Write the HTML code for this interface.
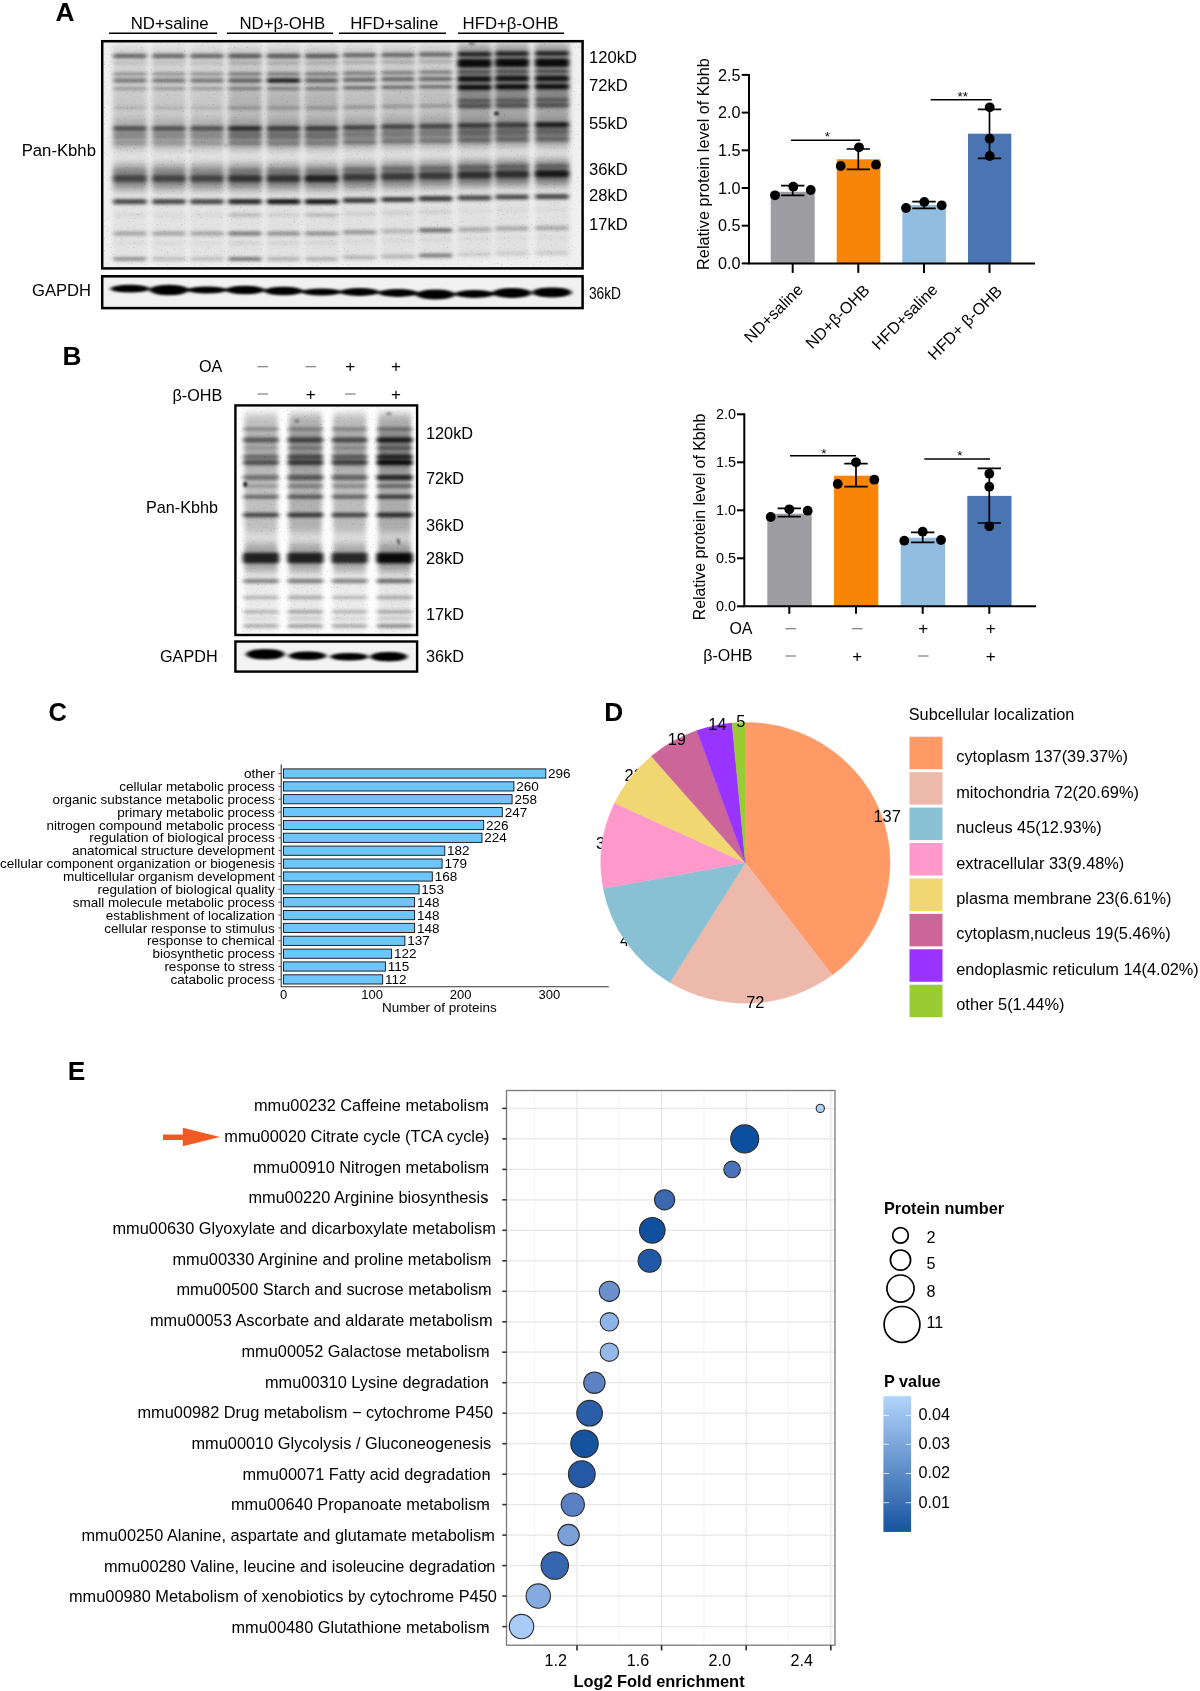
<!DOCTYPE html>
<html lang="en"><head><meta charset="utf-8"><title>Figure</title>
<style>html,body{margin:0;padding:0;background:#fff}svg{display:block}text{font-family:'Liberation Sans', Arial, Helvetica, sans-serif}</style></head><body>
<svg width="1200" height="1691" viewBox="0 0 1200 1691">
<defs>
<filter id="bl_b" filterUnits="userSpaceOnUse" x="0" y="0" width="1200" height="700"><feGaussianBlur stdDeviation="2.3 1.5"/></filter>
<filter id="bl_s" filterUnits="userSpaceOnUse" x="0" y="0" width="1200" height="700"><feGaussianBlur stdDeviation="2.6 4"/></filter>
<filter id="bl_b2" filterUnits="userSpaceOnUse" x="0" y="0" width="1200" height="700"><feGaussianBlur stdDeviation="2.0 1.7"/></filter>
<filter id="bl_s2" filterUnits="userSpaceOnUse" x="0" y="0" width="1200" height="700"><feGaussianBlur stdDeviation="2.2 4"/></filter>
<filter id="bl_g" filterUnits="userSpaceOnUse" x="0" y="0" width="1200" height="700"><feGaussianBlur stdDeviation="2.3 1.0"/></filter>
<filter id="bl_d" filterUnits="userSpaceOnUse" x="0" y="0" width="1200" height="700"><feGaussianBlur stdDeviation="0.9"/></filter>
<filter id="grain" x="0" y="0" width="100%" height="100%"><feTurbulence type="fractalNoise" baseFrequency="0.7" numOctaves="1" seed="7" result="n"/><feColorMatrix type="matrix" values="0 0 0 0 0  0 0 0 0 0  0 0 0 0 0  4 0 0 0 -2.55"/></filter>
</defs>
<rect width="1200" height="1691" fill="#fff"/>
<g id="panelA">
<clipPath id="cpA"><rect x="102" y="41" width="481" height="228"/></clipPath>
<g clip-path="url(#cpA)">
<rect x="102" y="41" width="481" height="228" fill="#f0f0f0"/>
<g filter="url(#bl_s)">
<rect x="112.8" y="46.0" width="34.5" height="104.0" rx="3" fill="#000" opacity="0.12"/>
<rect x="151.8" y="46.0" width="34.5" height="104.0" rx="3" fill="#000" opacity="0.12"/>
<rect x="189.8" y="46.0" width="34.5" height="104.0" rx="3" fill="#000" opacity="0.12"/>
<rect x="227.8" y="46.0" width="34.5" height="104.0" rx="3" fill="#000" opacity="0.17"/>
<rect x="266.2" y="46.0" width="34.5" height="104.0" rx="3" fill="#000" opacity="0.17"/>
<rect x="304.2" y="46.0" width="34.5" height="104.0" rx="3" fill="#000" opacity="0.17"/>
<rect x="342.2" y="45.2" width="34.5" height="104.0" rx="3" fill="#000" opacity="0.15"/>
<rect x="380.8" y="44.7" width="34.5" height="104.0" rx="3" fill="#000" opacity="0.15"/>
<rect x="418.2" y="44.1" width="34.5" height="104.0" rx="3" fill="#000" opacity="0.15"/>
<rect x="457.2" y="43.6" width="34.5" height="104.0" rx="3" fill="#000" opacity="0.22"/>
<rect x="494.8" y="43.1" width="34.5" height="104.0" rx="3" fill="#000" opacity="0.22"/>
<rect x="534.8" y="42.8" width="34.5" height="104.0" rx="3" fill="#000" opacity="0.22"/>
<rect x="457.2" y="45.9" width="34.5" height="46.0" rx="3" fill="#000" opacity="0.20"/>
<rect x="494.8" y="45.5" width="34.5" height="46.0" rx="3" fill="#000" opacity="0.20"/>
<rect x="534.8" y="45.3" width="34.5" height="46.0" rx="3" fill="#000" opacity="0.20"/>
<rect x="112.8" y="92.0" width="34.5" height="20.0" rx="3" fill="#000" opacity="0.05"/>
<rect x="151.8" y="92.0" width="34.5" height="20.0" rx="3" fill="#000" opacity="0.05"/>
<rect x="189.8" y="92.0" width="34.5" height="20.0" rx="3" fill="#000" opacity="0.05"/>
<rect x="227.8" y="92.0" width="34.5" height="20.0" rx="3" fill="#000" opacity="0.10"/>
<rect x="266.2" y="92.0" width="34.5" height="20.0" rx="3" fill="#000" opacity="0.10"/>
<rect x="304.2" y="92.0" width="34.5" height="20.0" rx="3" fill="#000" opacity="0.10"/>
<rect x="342.2" y="91.2" width="34.5" height="20.0" rx="3" fill="#000" opacity="0.07"/>
<rect x="380.8" y="90.6" width="34.5" height="20.0" rx="3" fill="#000" opacity="0.07"/>
<rect x="418.2" y="90.1" width="34.5" height="20.0" rx="3" fill="#000" opacity="0.07"/>
<rect x="457.2" y="89.5" width="34.5" height="20.0" rx="3" fill="#000" opacity="0.26"/>
<rect x="494.8" y="89.0" width="34.5" height="20.0" rx="3" fill="#000" opacity="0.26"/>
<rect x="534.8" y="88.7" width="34.5" height="20.0" rx="3" fill="#000" opacity="0.26"/>
<rect x="112.8" y="118.0" width="34.5" height="30.0" rx="3" fill="#000" opacity="0.18"/>
<rect x="151.8" y="118.0" width="34.5" height="30.0" rx="3" fill="#000" opacity="0.18"/>
<rect x="189.8" y="118.0" width="34.5" height="30.0" rx="3" fill="#000" opacity="0.18"/>
<rect x="227.8" y="118.0" width="34.5" height="30.0" rx="3" fill="#000" opacity="0.22"/>
<rect x="266.2" y="118.0" width="34.5" height="30.0" rx="3" fill="#000" opacity="0.22"/>
<rect x="304.2" y="118.0" width="34.5" height="30.0" rx="3" fill="#000" opacity="0.22"/>
<rect x="342.2" y="117.0" width="34.5" height="30.0" rx="3" fill="#000" opacity="0.20"/>
<rect x="380.8" y="116.4" width="34.5" height="30.0" rx="3" fill="#000" opacity="0.20"/>
<rect x="418.2" y="115.8" width="34.5" height="30.0" rx="3" fill="#000" opacity="0.20"/>
<rect x="457.2" y="115.1" width="34.5" height="30.0" rx="3" fill="#000" opacity="0.22"/>
<rect x="494.8" y="114.5" width="34.5" height="30.0" rx="3" fill="#000" opacity="0.22"/>
<rect x="534.8" y="114.2" width="34.5" height="30.0" rx="3" fill="#000" opacity="0.22"/>
<rect x="112.8" y="150.0" width="34.5" height="112.0" rx="3" fill="#000" opacity="0.05"/>
<rect x="151.8" y="150.0" width="34.5" height="112.0" rx="3" fill="#000" opacity="0.05"/>
<rect x="189.8" y="150.0" width="34.5" height="112.0" rx="3" fill="#000" opacity="0.05"/>
<rect x="227.8" y="150.0" width="34.5" height="112.0" rx="3" fill="#000" opacity="0.06"/>
<rect x="266.2" y="150.0" width="34.5" height="112.0" rx="3" fill="#000" opacity="0.06"/>
<rect x="304.2" y="150.0" width="34.5" height="112.0" rx="3" fill="#000" opacity="0.06"/>
<rect x="342.2" y="148.7" width="34.5" height="112.0" rx="3" fill="#000" opacity="0.06"/>
<rect x="380.8" y="147.9" width="34.5" height="112.0" rx="3" fill="#000" opacity="0.06"/>
<rect x="418.2" y="147.0" width="34.5" height="112.0" rx="3" fill="#000" opacity="0.06"/>
<rect x="457.2" y="146.2" width="34.5" height="112.0" rx="3" fill="#000" opacity="0.06"/>
<rect x="494.8" y="145.3" width="34.5" height="112.0" rx="3" fill="#000" opacity="0.06"/>
<rect x="534.8" y="144.9" width="34.5" height="112.0" rx="3" fill="#000" opacity="0.06"/>
<rect x="112.8" y="164.0" width="34.5" height="26.0" rx="3" fill="#000" opacity="0.30"/>
<rect x="151.8" y="164.0" width="34.5" height="26.0" rx="3" fill="#000" opacity="0.30"/>
<rect x="189.8" y="164.0" width="34.5" height="26.0" rx="3" fill="#000" opacity="0.30"/>
<rect x="227.8" y="164.0" width="34.5" height="26.0" rx="3" fill="#000" opacity="0.34"/>
<rect x="266.2" y="164.0" width="34.5" height="26.0" rx="3" fill="#000" opacity="0.34"/>
<rect x="304.2" y="164.0" width="34.5" height="26.0" rx="3" fill="#000" opacity="0.34"/>
<rect x="342.2" y="162.9" width="34.5" height="26.0" rx="3" fill="#000" opacity="0.34"/>
<rect x="380.8" y="162.1" width="34.5" height="26.0" rx="3" fill="#000" opacity="0.34"/>
<rect x="418.2" y="161.3" width="34.5" height="26.0" rx="3" fill="#000" opacity="0.34"/>
<rect x="457.2" y="160.6" width="34.5" height="26.0" rx="3" fill="#000" opacity="0.38"/>
<rect x="494.8" y="159.8" width="34.5" height="26.0" rx="3" fill="#000" opacity="0.38"/>
<rect x="534.8" y="159.4" width="34.5" height="26.0" rx="3" fill="#000" opacity="0.38"/>
<rect x="112.8" y="172.0" width="34.5" height="13.0" rx="3" fill="#000" opacity="0.25"/>
<rect x="151.8" y="172.0" width="34.5" height="13.0" rx="3" fill="#000" opacity="0.25"/>
<rect x="189.8" y="172.0" width="34.5" height="13.0" rx="3" fill="#000" opacity="0.25"/>
<rect x="227.8" y="172.0" width="34.5" height="13.0" rx="3" fill="#000" opacity="0.28"/>
<rect x="266.2" y="172.0" width="34.5" height="13.0" rx="3" fill="#000" opacity="0.28"/>
<rect x="304.2" y="172.0" width="34.5" height="13.0" rx="3" fill="#000" opacity="0.28"/>
<rect x="342.2" y="170.8" width="34.5" height="13.0" rx="3" fill="#000" opacity="0.28"/>
<rect x="380.8" y="170.1" width="34.5" height="13.0" rx="3" fill="#000" opacity="0.28"/>
<rect x="418.2" y="169.3" width="34.5" height="13.0" rx="3" fill="#000" opacity="0.28"/>
<rect x="457.2" y="168.5" width="34.5" height="13.0" rx="3" fill="#000" opacity="0.30"/>
<rect x="494.8" y="167.8" width="34.5" height="13.0" rx="3" fill="#000" opacity="0.30"/>
<rect x="534.8" y="167.4" width="34.5" height="13.0" rx="3" fill="#000" opacity="0.30"/>
</g>
<g filter="url(#bl_b)">
<rect x="113.2" y="53.8" width="33.5" height="4.5" rx="2.0" fill="#000" opacity="0.50"/>
<rect x="152.2" y="53.8" width="33.5" height="4.5" rx="2.0" fill="#000" opacity="0.50"/>
<rect x="190.2" y="53.8" width="33.5" height="4.5" rx="2.0" fill="#000" opacity="0.50"/>
<rect x="228.2" y="53.8" width="33.5" height="4.5" rx="2.0" fill="#000" opacity="0.55"/>
<rect x="266.8" y="53.8" width="33.5" height="4.5" rx="2.0" fill="#000" opacity="0.55"/>
<rect x="304.8" y="53.8" width="33.5" height="4.5" rx="2.0" fill="#000" opacity="0.55"/>
<rect x="342.8" y="53.1" width="33.5" height="4.5" rx="2.0" fill="#000" opacity="0.48"/>
<rect x="381.2" y="52.7" width="33.5" height="4.5" rx="2.0" fill="#000" opacity="0.48"/>
<rect x="418.8" y="52.3" width="33.5" height="4.5" rx="2.0" fill="#000" opacity="0.48"/>
<rect x="457.8" y="51.9" width="33.5" height="4.5" rx="2.0" fill="#000" opacity="0.80"/>
<rect x="495.2" y="51.5" width="33.5" height="4.5" rx="2.0" fill="#000" opacity="0.80"/>
<rect x="535.2" y="51.3" width="33.5" height="4.5" rx="2.0" fill="#000" opacity="0.80"/>
<rect x="113.2" y="61.8" width="33.5" height="2.5" rx="1.2" fill="#000" opacity="0.12"/>
<rect x="152.2" y="61.8" width="33.5" height="2.5" rx="1.2" fill="#000" opacity="0.12"/>
<rect x="190.2" y="61.8" width="33.5" height="2.5" rx="1.2" fill="#000" opacity="0.12"/>
<rect x="228.2" y="61.8" width="33.5" height="2.5" rx="1.2" fill="#000" opacity="0.18"/>
<rect x="266.8" y="61.8" width="33.5" height="2.5" rx="1.2" fill="#000" opacity="0.18"/>
<rect x="304.8" y="61.8" width="33.5" height="2.5" rx="1.2" fill="#000" opacity="0.18"/>
<rect x="342.8" y="61.1" width="33.5" height="2.5" rx="1.2" fill="#000" opacity="0.22"/>
<rect x="381.2" y="60.7" width="33.5" height="2.5" rx="1.2" fill="#000" opacity="0.22"/>
<rect x="418.8" y="60.2" width="33.5" height="2.5" rx="1.2" fill="#000" opacity="0.22"/>
<rect x="457.8" y="59.1" width="33.5" height="8.5" rx="2.0" fill="#000" opacity="0.93"/>
<rect x="495.2" y="58.6" width="33.5" height="8.5" rx="2.0" fill="#000" opacity="0.93"/>
<rect x="535.2" y="58.4" width="33.5" height="8.5" rx="2.0" fill="#000" opacity="0.93"/>
<rect x="113.2" y="72.2" width="33.5" height="3.5" rx="1.8" fill="#000" opacity="0.30"/>
<rect x="152.2" y="72.2" width="33.5" height="3.5" rx="1.8" fill="#000" opacity="0.30"/>
<rect x="190.2" y="72.2" width="33.5" height="3.5" rx="1.8" fill="#000" opacity="0.30"/>
<rect x="228.2" y="72.2" width="33.5" height="3.5" rx="1.8" fill="#000" opacity="0.40"/>
<rect x="266.8" y="72.2" width="33.5" height="3.5" rx="1.8" fill="#000" opacity="0.40"/>
<rect x="304.8" y="72.2" width="33.5" height="3.5" rx="1.8" fill="#000" opacity="0.40"/>
<rect x="342.8" y="71.6" width="33.5" height="3.5" rx="1.8" fill="#000" opacity="0.40"/>
<rect x="381.2" y="71.1" width="33.5" height="3.5" rx="1.8" fill="#000" opacity="0.40"/>
<rect x="418.8" y="70.6" width="33.5" height="3.5" rx="1.8" fill="#000" opacity="0.40"/>
<rect x="457.8" y="70.2" width="33.5" height="3.5" rx="1.8" fill="#000" opacity="0.55"/>
<rect x="495.2" y="69.7" width="33.5" height="3.5" rx="1.8" fill="#000" opacity="0.55"/>
<rect x="535.2" y="69.5" width="33.5" height="3.5" rx="1.8" fill="#000" opacity="0.55"/>
<rect x="113.2" y="78.3" width="33.5" height="4.5" rx="2.0" fill="#000" opacity="0.42"/>
<rect x="152.2" y="78.3" width="33.5" height="4.5" rx="2.0" fill="#000" opacity="0.42"/>
<rect x="190.2" y="78.3" width="33.5" height="4.5" rx="2.0" fill="#000" opacity="0.42"/>
<rect x="228.2" y="78.3" width="33.5" height="4.5" rx="2.0" fill="#000" opacity="0.52"/>
<rect x="266.8" y="78.3" width="33.5" height="4.5" rx="2.0" fill="#000" opacity="0.88"/>
<rect x="304.8" y="78.3" width="33.5" height="4.5" rx="2.0" fill="#000" opacity="0.52"/>
<rect x="342.8" y="77.6" width="33.5" height="4.5" rx="2.0" fill="#000" opacity="0.48"/>
<rect x="381.2" y="77.1" width="33.5" height="4.5" rx="2.0" fill="#000" opacity="0.48"/>
<rect x="418.8" y="76.7" width="33.5" height="4.5" rx="2.0" fill="#000" opacity="0.48"/>
<rect x="457.8" y="76.1" width="33.5" height="6.0" rx="2.0" fill="#000" opacity="0.88"/>
<rect x="495.2" y="75.6" width="33.5" height="6.0" rx="2.0" fill="#000" opacity="0.88"/>
<rect x="535.2" y="75.4" width="33.5" height="6.0" rx="2.0" fill="#000" opacity="0.88"/>
<rect x="113.2" y="86.7" width="33.5" height="3.5" rx="1.8" fill="#000" opacity="0.26"/>
<rect x="152.2" y="86.7" width="33.5" height="3.5" rx="1.8" fill="#000" opacity="0.26"/>
<rect x="190.2" y="86.7" width="33.5" height="3.5" rx="1.8" fill="#000" opacity="0.26"/>
<rect x="228.2" y="86.7" width="33.5" height="3.5" rx="1.8" fill="#000" opacity="0.38"/>
<rect x="266.8" y="86.7" width="33.5" height="3.5" rx="1.8" fill="#000" opacity="0.38"/>
<rect x="304.8" y="86.7" width="33.5" height="3.5" rx="1.8" fill="#000" opacity="0.38"/>
<rect x="342.8" y="85.9" width="33.5" height="3.5" rx="1.8" fill="#000" opacity="0.48"/>
<rect x="381.2" y="85.4" width="33.5" height="3.5" rx="1.8" fill="#000" opacity="0.48"/>
<rect x="418.8" y="84.9" width="33.5" height="3.5" rx="1.8" fill="#000" opacity="0.48"/>
<rect x="457.8" y="84.5" width="33.5" height="5.5" rx="2.0" fill="#000" opacity="0.90"/>
<rect x="495.2" y="84.0" width="33.5" height="5.5" rx="2.0" fill="#000" opacity="0.90"/>
<rect x="535.2" y="83.8" width="33.5" height="5.5" rx="2.0" fill="#000" opacity="0.90"/>
<rect x="457.8" y="99.0" width="33.5" height="3.5" rx="1.8" fill="#000" opacity="0.42"/>
<rect x="495.2" y="98.4" width="33.5" height="3.5" rx="1.8" fill="#000" opacity="0.42"/>
<rect x="535.2" y="98.1" width="33.5" height="3.5" rx="1.8" fill="#000" opacity="0.42"/>
<rect x="113.2" y="106.2" width="33.5" height="3.5" rx="1.8" fill="#000" opacity="0.12"/>
<rect x="152.2" y="106.2" width="33.5" height="3.5" rx="1.8" fill="#000" opacity="0.12"/>
<rect x="190.2" y="106.2" width="33.5" height="3.5" rx="1.8" fill="#000" opacity="0.12"/>
<rect x="228.2" y="106.2" width="33.5" height="3.5" rx="1.8" fill="#000" opacity="0.22"/>
<rect x="266.8" y="106.2" width="33.5" height="3.5" rx="1.8" fill="#000" opacity="0.22"/>
<rect x="304.8" y="106.2" width="33.5" height="3.5" rx="1.8" fill="#000" opacity="0.22"/>
<rect x="342.8" y="105.4" width="33.5" height="3.5" rx="1.8" fill="#000" opacity="0.24"/>
<rect x="381.2" y="104.8" width="33.5" height="3.5" rx="1.8" fill="#000" opacity="0.24"/>
<rect x="418.8" y="104.3" width="33.5" height="3.5" rx="1.8" fill="#000" opacity="0.24"/>
<rect x="457.8" y="103.8" width="33.5" height="4.5" rx="2.0" fill="#000" opacity="0.48"/>
<rect x="495.2" y="103.2" width="33.5" height="4.5" rx="2.0" fill="#000" opacity="0.48"/>
<rect x="535.2" y="103.0" width="33.5" height="4.5" rx="2.0" fill="#000" opacity="0.48"/>
<rect x="113.2" y="125.9" width="33.5" height="5.0" rx="2.0" fill="#000" opacity="0.52"/>
<rect x="152.2" y="125.9" width="33.5" height="5.0" rx="2.0" fill="#000" opacity="0.52"/>
<rect x="190.2" y="125.9" width="33.5" height="5.0" rx="2.0" fill="#000" opacity="0.52"/>
<rect x="228.2" y="125.9" width="33.5" height="5.0" rx="2.0" fill="#000" opacity="0.72"/>
<rect x="266.8" y="125.9" width="33.5" height="5.0" rx="2.0" fill="#000" opacity="0.62"/>
<rect x="304.8" y="125.9" width="33.5" height="5.0" rx="2.0" fill="#000" opacity="0.62"/>
<rect x="342.8" y="125.0" width="33.5" height="5.0" rx="2.0" fill="#000" opacity="0.58"/>
<rect x="381.2" y="124.3" width="33.5" height="5.0" rx="2.0" fill="#000" opacity="0.58"/>
<rect x="418.8" y="123.7" width="33.5" height="5.0" rx="2.0" fill="#000" opacity="0.58"/>
<rect x="457.8" y="123.1" width="33.5" height="5.0" rx="2.0" fill="#000" opacity="0.62"/>
<rect x="495.2" y="122.5" width="33.5" height="5.0" rx="2.0" fill="#000" opacity="0.62"/>
<rect x="535.2" y="122.2" width="33.5" height="5.0" rx="2.0" fill="#000" opacity="0.85"/>
<rect x="113.2" y="132.0" width="33.5" height="7.0" rx="2.0" fill="#000" opacity="0.20"/>
<rect x="152.2" y="132.0" width="33.5" height="7.0" rx="2.0" fill="#000" opacity="0.20"/>
<rect x="190.2" y="132.0" width="33.5" height="7.0" rx="2.0" fill="#000" opacity="0.20"/>
<rect x="228.2" y="132.0" width="33.5" height="7.0" rx="2.0" fill="#000" opacity="0.30"/>
<rect x="266.8" y="132.0" width="33.5" height="7.0" rx="2.0" fill="#000" opacity="0.30"/>
<rect x="304.8" y="132.0" width="33.5" height="7.0" rx="2.0" fill="#000" opacity="0.30"/>
<rect x="342.8" y="131.0" width="33.5" height="7.0" rx="2.0" fill="#000" opacity="0.26"/>
<rect x="381.2" y="130.4" width="33.5" height="7.0" rx="2.0" fill="#000" opacity="0.26"/>
<rect x="418.8" y="129.7" width="33.5" height="7.0" rx="2.0" fill="#000" opacity="0.26"/>
<rect x="457.8" y="129.1" width="33.5" height="7.0" rx="2.0" fill="#000" opacity="0.32"/>
<rect x="495.2" y="128.5" width="33.5" height="7.0" rx="2.0" fill="#000" opacity="0.32"/>
<rect x="535.2" y="128.1" width="33.5" height="7.0" rx="2.0" fill="#000" opacity="0.32"/>
<rect x="113.2" y="140.5" width="33.5" height="5.0" rx="2.0" fill="#000" opacity="0.14"/>
<rect x="152.2" y="140.5" width="33.5" height="5.0" rx="2.0" fill="#000" opacity="0.14"/>
<rect x="190.2" y="140.5" width="33.5" height="5.0" rx="2.0" fill="#000" opacity="0.14"/>
<rect x="228.2" y="140.5" width="33.5" height="5.0" rx="2.0" fill="#000" opacity="0.24"/>
<rect x="266.8" y="140.5" width="33.5" height="5.0" rx="2.0" fill="#000" opacity="0.24"/>
<rect x="304.8" y="140.5" width="33.5" height="5.0" rx="2.0" fill="#000" opacity="0.24"/>
<rect x="342.8" y="139.5" width="33.5" height="5.0" rx="2.0" fill="#000" opacity="0.30"/>
<rect x="381.2" y="138.8" width="33.5" height="5.0" rx="2.0" fill="#000" opacity="0.30"/>
<rect x="418.8" y="138.2" width="33.5" height="5.0" rx="2.0" fill="#000" opacity="0.30"/>
<rect x="457.8" y="137.5" width="33.5" height="5.0" rx="2.0" fill="#000" opacity="0.34"/>
<rect x="495.2" y="136.8" width="33.5" height="5.0" rx="2.0" fill="#000" opacity="0.34"/>
<rect x="535.2" y="136.5" width="33.5" height="5.0" rx="2.0" fill="#000" opacity="0.34"/>
<rect x="113.2" y="168.5" width="33.5" height="4.0" rx="2.0" fill="#000" opacity="0.06"/>
<rect x="152.2" y="168.5" width="33.5" height="4.0" rx="2.0" fill="#000" opacity="0.06"/>
<rect x="190.2" y="168.5" width="33.5" height="4.0" rx="2.0" fill="#000" opacity="0.06"/>
<rect x="228.2" y="168.5" width="33.5" height="4.0" rx="2.0" fill="#000" opacity="0.14"/>
<rect x="266.8" y="168.5" width="33.5" height="4.0" rx="2.0" fill="#000" opacity="0.14"/>
<rect x="304.8" y="168.5" width="33.5" height="4.0" rx="2.0" fill="#000" opacity="0.14"/>
<rect x="342.8" y="167.4" width="33.5" height="4.0" rx="2.0" fill="#000" opacity="0.24"/>
<rect x="381.2" y="166.6" width="33.5" height="4.0" rx="2.0" fill="#000" opacity="0.24"/>
<rect x="418.8" y="165.9" width="33.5" height="4.0" rx="2.0" fill="#000" opacity="0.24"/>
<rect x="457.8" y="165.1" width="33.5" height="4.0" rx="2.0" fill="#000" opacity="0.28"/>
<rect x="495.2" y="164.4" width="33.5" height="4.0" rx="2.0" fill="#000" opacity="0.28"/>
<rect x="535.2" y="164.0" width="33.5" height="4.0" rx="2.0" fill="#000" opacity="0.28"/>
<rect x="113.2" y="175.2" width="33.5" height="6.5" rx="2.0" fill="#000" opacity="0.45"/>
<rect x="152.2" y="175.2" width="33.5" height="6.5" rx="2.0" fill="#000" opacity="0.45"/>
<rect x="190.2" y="175.2" width="33.5" height="6.5" rx="2.0" fill="#000" opacity="0.45"/>
<rect x="228.2" y="175.2" width="33.5" height="6.5" rx="2.0" fill="#000" opacity="0.56"/>
<rect x="266.8" y="175.2" width="33.5" height="6.5" rx="2.0" fill="#000" opacity="0.56"/>
<rect x="304.8" y="175.2" width="33.5" height="6.5" rx="2.0" fill="#000" opacity="0.72"/>
<rect x="342.8" y="174.0" width="33.5" height="6.5" rx="2.0" fill="#000" opacity="0.50"/>
<rect x="381.2" y="173.2" width="33.5" height="6.5" rx="2.0" fill="#000" opacity="0.50"/>
<rect x="418.8" y="172.5" width="33.5" height="6.5" rx="2.0" fill="#000" opacity="0.50"/>
<rect x="457.8" y="171.7" width="33.5" height="6.5" rx="2.0" fill="#000" opacity="0.56"/>
<rect x="495.2" y="170.9" width="33.5" height="6.5" rx="2.0" fill="#000" opacity="0.56"/>
<rect x="535.2" y="170.5" width="33.5" height="6.5" rx="2.0" fill="#000" opacity="0.78"/>
<rect x="113.2" y="199.0" width="33.5" height="5.2" rx="2.0" fill="#000" opacity="0.66"/>
<rect x="152.2" y="199.0" width="33.5" height="5.2" rx="2.0" fill="#000" opacity="0.66"/>
<rect x="190.2" y="199.0" width="33.5" height="5.2" rx="2.0" fill="#000" opacity="0.66"/>
<rect x="228.2" y="199.0" width="33.5" height="5.2" rx="2.0" fill="#000" opacity="0.80"/>
<rect x="266.8" y="199.0" width="33.5" height="5.2" rx="2.0" fill="#000" opacity="0.88"/>
<rect x="304.8" y="199.0" width="33.5" height="5.2" rx="2.0" fill="#000" opacity="0.88"/>
<rect x="342.8" y="197.7" width="33.5" height="5.2" rx="2.0" fill="#000" opacity="0.72"/>
<rect x="381.2" y="196.9" width="33.5" height="5.2" rx="2.0" fill="#000" opacity="0.72"/>
<rect x="418.8" y="196.1" width="33.5" height="5.2" rx="2.0" fill="#000" opacity="0.72"/>
<rect x="457.8" y="195.2" width="33.5" height="5.2" rx="2.0" fill="#000" opacity="0.66"/>
<rect x="495.2" y="194.4" width="33.5" height="5.2" rx="2.0" fill="#000" opacity="0.66"/>
<rect x="535.2" y="194.0" width="33.5" height="5.2" rx="2.0" fill="#000" opacity="0.66"/>
<rect x="113.2" y="213.2" width="33.5" height="3.5" rx="1.8" fill="#000" opacity="0.05"/>
<rect x="152.2" y="213.2" width="33.5" height="3.5" rx="1.8" fill="#000" opacity="0.05"/>
<rect x="190.2" y="213.2" width="33.5" height="3.5" rx="1.8" fill="#000" opacity="0.05"/>
<rect x="228.2" y="213.2" width="33.5" height="3.5" rx="1.8" fill="#000" opacity="0.18"/>
<rect x="266.8" y="213.2" width="33.5" height="3.5" rx="1.8" fill="#000" opacity="0.08"/>
<rect x="304.8" y="213.2" width="33.5" height="3.5" rx="1.8" fill="#000" opacity="0.18"/>
<rect x="342.8" y="211.9" width="33.5" height="3.5" rx="1.8" fill="#000" opacity="0.08"/>
<rect x="381.2" y="211.1" width="33.5" height="3.5" rx="1.8" fill="#000" opacity="0.08"/>
<rect x="418.8" y="210.2" width="33.5" height="3.5" rx="1.8" fill="#000" opacity="0.08"/>
<rect x="457.8" y="209.3" width="33.5" height="3.5" rx="1.8" fill="#000" opacity="0.03"/>
<rect x="495.2" y="208.4" width="33.5" height="3.5" rx="1.8" fill="#000" opacity="0.03"/>
<rect x="535.2" y="208.0" width="33.5" height="3.5" rx="1.8" fill="#000" opacity="0.03"/>
<rect x="113.2" y="231.3" width="33.5" height="4.5" rx="2.0" fill="#000" opacity="0.26"/>
<rect x="152.2" y="231.3" width="33.5" height="4.5" rx="2.0" fill="#000" opacity="0.26"/>
<rect x="190.2" y="231.3" width="33.5" height="4.5" rx="2.0" fill="#000" opacity="0.26"/>
<rect x="228.2" y="231.3" width="33.5" height="4.5" rx="2.0" fill="#000" opacity="0.42"/>
<rect x="266.8" y="231.3" width="33.5" height="4.5" rx="2.0" fill="#000" opacity="0.33"/>
<rect x="304.8" y="231.3" width="33.5" height="4.5" rx="2.0" fill="#000" opacity="0.33"/>
<rect x="342.8" y="230.0" width="33.5" height="4.5" rx="2.0" fill="#000" opacity="0.31"/>
<rect x="381.2" y="229.0" width="33.5" height="4.5" rx="2.0" fill="#000" opacity="0.18"/>
<rect x="418.8" y="228.1" width="33.5" height="4.5" rx="2.0" fill="#000" opacity="0.48"/>
<rect x="457.8" y="227.2" width="33.5" height="4.5" rx="2.0" fill="#000" opacity="0.24"/>
<rect x="495.2" y="226.3" width="33.5" height="4.5" rx="2.0" fill="#000" opacity="0.24"/>
<rect x="535.2" y="225.8" width="33.5" height="4.5" rx="2.0" fill="#000" opacity="0.24"/>
<rect x="113.2" y="241.8" width="33.5" height="2.5" rx="1.2" fill="#000" opacity="0.05"/>
<rect x="152.2" y="241.8" width="33.5" height="2.5" rx="1.2" fill="#000" opacity="0.05"/>
<rect x="190.2" y="241.8" width="33.5" height="2.5" rx="1.2" fill="#000" opacity="0.05"/>
<rect x="228.2" y="241.8" width="33.5" height="2.5" rx="1.2" fill="#000" opacity="0.08"/>
<rect x="266.8" y="241.8" width="33.5" height="2.5" rx="1.2" fill="#000" opacity="0.08"/>
<rect x="304.8" y="241.8" width="33.5" height="2.5" rx="1.2" fill="#000" opacity="0.08"/>
<rect x="342.8" y="240.3" width="33.5" height="2.5" rx="1.2" fill="#000" opacity="0.05"/>
<rect x="381.2" y="239.4" width="33.5" height="2.5" rx="1.2" fill="#000" opacity="0.05"/>
<rect x="418.8" y="238.4" width="33.5" height="2.5" rx="1.2" fill="#000" opacity="0.05"/>
<rect x="457.8" y="237.5" width="33.5" height="2.5" rx="1.2" fill="#000" opacity="0.03"/>
<rect x="495.2" y="236.5" width="33.5" height="2.5" rx="1.2" fill="#000" opacity="0.03"/>
<rect x="535.2" y="236.0" width="33.5" height="2.5" rx="1.2" fill="#000" opacity="0.03"/>
<rect x="113.2" y="256.9" width="33.5" height="4.2" rx="2.0" fill="#000" opacity="0.35"/>
<rect x="152.2" y="256.9" width="33.5" height="4.2" rx="2.0" fill="#000" opacity="0.16"/>
<rect x="190.2" y="256.9" width="33.5" height="4.2" rx="2.0" fill="#000" opacity="0.16"/>
<rect x="228.2" y="256.9" width="33.5" height="4.2" rx="2.0" fill="#000" opacity="0.45"/>
<rect x="266.8" y="256.9" width="33.5" height="4.2" rx="2.0" fill="#000" opacity="0.20"/>
<rect x="304.8" y="256.9" width="33.5" height="4.2" rx="2.0" fill="#000" opacity="0.20"/>
<rect x="342.8" y="255.4" width="33.5" height="4.2" rx="2.0" fill="#000" opacity="0.20"/>
<rect x="381.2" y="254.4" width="33.5" height="4.2" rx="2.0" fill="#000" opacity="0.20"/>
<rect x="418.8" y="253.4" width="33.5" height="4.2" rx="2.0" fill="#000" opacity="0.45"/>
<rect x="457.8" y="252.4" width="33.5" height="4.2" rx="2.0" fill="#000" opacity="0.10"/>
<rect x="495.2" y="251.4" width="33.5" height="4.2" rx="2.0" fill="#000" opacity="0.10"/>
<rect x="535.2" y="250.9" width="33.5" height="4.2" rx="2.0" fill="#000" opacity="0.10"/>
</g>
</g>
<g clip-path="url(#cpA)"><rect x="102" y="41" width="481" height="228" filter="url(#grain)" opacity="0.22"/>
<g filter="url(#bl_d)"><ellipse cx="496.5" cy="113.5" rx="2.6" ry="2" fill="#000" opacity=".75"/><ellipse cx="472" cy="43.5" rx="3" ry="1.5" fill="#000" opacity=".4"/><ellipse cx="190" cy="151" rx="1" ry="1" fill="#000" opacity=".4"/><ellipse cx="225.7" cy="145.5" rx="1" ry="1" fill="#000" opacity=".4"/></g></g>
<rect x="102.2" y="41.2" width="480.4" height="227.2" fill="none" stroke="#000" stroke-width="2.5"/>
<clipPath id="cpAg"><rect x="102" y="276" width="481" height="32"/></clipPath>
<g clip-path="url(#cpAg)"><rect x="102" y="276" width="481" height="32" fill="#f1f1f1"/><g filter="url(#bl_g)">
<ellipse cx="130.0" cy="288.7" rx="19.5" ry="3.9" fill="#000"/><rect x="117.0" y="285.7" width="26" height="6.0" rx="2" fill="#000"/>
<ellipse cx="169.0" cy="290.0" rx="19.5" ry="5.2" fill="#000"/><rect x="156.0" y="285.7" width="26" height="8.6" rx="2" fill="#000"/>
<ellipse cx="207.0" cy="290.0" rx="19.5" ry="3.4" fill="#000"/><rect x="194.0" y="287.5" width="26" height="5.0" rx="2" fill="#000"/>
<ellipse cx="245.0" cy="290.0" rx="19.5" ry="4.2" fill="#000"/><rect x="232.0" y="286.7" width="26" height="6.6" rx="2" fill="#000"/>
<ellipse cx="283.5" cy="291.0" rx="19.5" ry="4.2" fill="#000"/><rect x="270.5" y="287.7" width="26" height="6.6" rx="2" fill="#000"/>
<ellipse cx="321.5" cy="292.0" rx="19.5" ry="3.4" fill="#000"/><rect x="308.5" y="289.5" width="26" height="5.0" rx="2" fill="#000"/>
<ellipse cx="359.5" cy="292.0" rx="19.5" ry="3.9" fill="#000"/><rect x="346.5" y="289.0" width="26" height="6.0" rx="2" fill="#000"/>
<ellipse cx="398.0" cy="293.0" rx="19.5" ry="3.9" fill="#000"/><rect x="385.0" y="290.0" width="26" height="6.0" rx="2" fill="#000"/>
<ellipse cx="435.5" cy="294.5" rx="19.5" ry="5.0" fill="#000"/><rect x="422.5" y="290.5" width="26" height="8.1" rx="2" fill="#000"/>
<ellipse cx="474.5" cy="294.0" rx="19.5" ry="3.9" fill="#000"/><rect x="461.5" y="291.0" width="26" height="6.0" rx="2" fill="#000"/>
<ellipse cx="512.0" cy="293.0" rx="19.5" ry="5.0" fill="#000"/><rect x="499.0" y="289.0" width="26" height="8.1" rx="2" fill="#000"/>
<ellipse cx="552.0" cy="292.4" rx="19.5" ry="5.0" fill="#000"/><rect x="539.0" y="288.4" width="26" height="8.1" rx="2" fill="#000"/>
</g></g>
<rect x="102.2" y="276.3" width="480.4" height="31.8" fill="none" stroke="#000" stroke-width="2.5"/>
<text x="55.60" y="21.00" font-size="26.3" font-weight="bold">A</text>
<line x1="109" y1="33.3" x2="217" y2="33.3" stroke="#000" stroke-width="1.6"/>
<text x="169.70" y="28.80" font-size="16.8" text-anchor="middle">ND+saline</text>
<line x1="227" y1="33.3" x2="333" y2="33.3" stroke="#000" stroke-width="1.6"/>
<text x="282.30" y="28.80" font-size="16.8" text-anchor="middle">ND+β-OHB</text>
<line x1="339" y1="33.3" x2="446" y2="33.3" stroke="#000" stroke-width="1.6"/>
<text x="394.20" y="28.80" font-size="16.8" text-anchor="middle">HFD+saline</text>
<line x1="458" y1="33.3" x2="564" y2="33.3" stroke="#000" stroke-width="1.6"/>
<text x="510.50" y="28.80" font-size="16.8" text-anchor="middle">HFD+β-OHB</text>
<text x="21.70" y="156.30" font-size="16.7">Pan-Kbhb</text>
<text x="32.00" y="296.00" font-size="16.6">GAPDH</text>
<text x="589.00" y="62.90" font-size="16.6">120kD</text>
<text x="589.00" y="90.70" font-size="16.6">72kD</text>
<text x="589.00" y="128.70" font-size="16.6">55kD</text>
<text x="589.00" y="175.30" font-size="16.6">36kD</text>
<text x="589.00" y="200.80" font-size="16.6">28kD</text>
<text x="589.00" y="230.40" font-size="16.6">17kD</text>
<text x="589" y="298.5" font-size="16.3" textLength="32" lengthAdjust="spacingAndGlyphs">36kD</text>
<rect x="770.7" y="191.8" width="44.0" height="71.6" fill="#9e9da2"/>
<rect x="836.7" y="159.3" width="43.6" height="104.1" fill="#f98506"/>
<rect x="902.3" y="205.0" width="43.6" height="58.4" fill="#90bde0"/>
<rect x="968.0" y="133.7" width="43.3" height="129.7" fill="#4b74b2"/>
<path d="M749 73.9V263.4H1035" fill="none" stroke="#000" stroke-width="2"/>
<line x1="741.7" y1="263.4" x2="749" y2="263.4" stroke="#000" stroke-width="2"/>
<text x="740.50" y="269.15" font-size="16.2" text-anchor="end">0.0</text>
<line x1="741.7" y1="225.7" x2="749" y2="225.7" stroke="#000" stroke-width="2"/>
<text x="740.50" y="231.45" font-size="16.2" text-anchor="end">0.5</text>
<line x1="741.7" y1="188.0" x2="749" y2="188.0" stroke="#000" stroke-width="2"/>
<text x="740.50" y="193.75" font-size="16.2" text-anchor="end">1.0</text>
<line x1="741.7" y1="150.3" x2="749" y2="150.3" stroke="#000" stroke-width="2"/>
<text x="740.50" y="156.05" font-size="16.2" text-anchor="end">1.5</text>
<line x1="741.7" y1="112.6" x2="749" y2="112.6" stroke="#000" stroke-width="2"/>
<text x="740.50" y="118.35" font-size="16.2" text-anchor="end">2.0</text>
<line x1="741.7" y1="74.9" x2="749" y2="74.9" stroke="#000" stroke-width="2"/>
<text x="740.50" y="80.65" font-size="16.2" text-anchor="end">2.5</text>
<path d="M781.0 185.7H804.4M781.0 195.3H804.4M792.7 185.7V195.3" stroke="#000" stroke-width="1.7" fill="none"/>
<line x1="792.7" y1="263.4" x2="792.7" y2="272.9" stroke="#000" stroke-width="2"/>
<path d="M846.6 149.0H870.0M846.6 169.3H870.0M858.3 149.0V169.3" stroke="#000" stroke-width="1.7" fill="none"/>
<line x1="858.3" y1="263.4" x2="858.3" y2="272.9" stroke="#000" stroke-width="2"/>
<path d="M912.3 201.7H935.7M912.3 208.3H935.7M924.0 201.7V208.3" stroke="#000" stroke-width="1.7" fill="none"/>
<line x1="924.0" y1="263.4" x2="924.0" y2="272.9" stroke="#000" stroke-width="2"/>
<path d="M977.8 109.3H1001.2M977.8 158.3H1001.2M989.5 109.3V158.3" stroke="#000" stroke-width="1.7" fill="none"/>
<line x1="989.5" y1="263.4" x2="989.5" y2="272.9" stroke="#000" stroke-width="2"/>
<circle cx="775.0" cy="195.3" r="4.9"/>
<circle cx="793.3" cy="186.7" r="4.9"/>
<circle cx="810.7" cy="190.0" r="4.9"/>
<circle cx="840.7" cy="166.0" r="4.9"/>
<circle cx="859.0" cy="147.3" r="4.9"/>
<circle cx="876.0" cy="164.7" r="4.9"/>
<circle cx="906.0" cy="208.0" r="4.9"/>
<circle cx="924.3" cy="202.0" r="4.9"/>
<circle cx="941.7" cy="205.3" r="4.9"/>
<circle cx="989.7" cy="107.3" r="4.9"/>
<circle cx="989.7" cy="138.7" r="4.9"/>
<circle cx="989.7" cy="156.0" r="4.9"/>
<line x1="791.0" y1="140.3" x2="860.3" y2="140.3" stroke="#000" stroke-width="1.6"/>
<text x="827.30" y="141.30" font-size="13.5" text-anchor="middle">*</text>
<line x1="930.7" y1="99.7" x2="991.7" y2="99.7" stroke="#000" stroke-width="1.6"/>
<text x="962.70" y="101.30" font-size="13.5" text-anchor="middle">**</text>
<text transform="translate(708.5 164) rotate(-90)" font-size="16.3" text-anchor="middle">Relative protein level of Kbhb</text>
<text transform="translate(804.0 290.7) rotate(-45)" font-size="16.2" text-anchor="end">ND+saline</text>
<text transform="translate(870.6 291.3) rotate(-45)" font-size="16.2" text-anchor="end">ND+β-OHB</text>
<text transform="translate(938.7 290.7) rotate(-45)" font-size="16.2" text-anchor="end">HFD+saline</text>
<text transform="translate(1003.2 292.3) rotate(-45)" font-size="16.2" text-anchor="end">HFD+ β-OHB</text>
</g>
<g id="panelB">
<clipPath id="cpB"><rect x="236" y="406" width="181" height="229"/></clipPath>
<g clip-path="url(#cpB)">
<rect x="236" y="406" width="181" height="229" fill="#fdfdfd"/>
<g filter="url(#bl_s2)">
<rect x="244.5" y="414.0" width="33.0" height="118.0" rx="3" fill="#000" opacity="0.24"/>
<rect x="288.9" y="414.0" width="33.0" height="118.0" rx="3" fill="#000" opacity="0.30"/>
<rect x="333.1" y="414.0" width="33.0" height="118.0" rx="3" fill="#000" opacity="0.26"/>
<rect x="378.1" y="414.0" width="33.0" height="118.0" rx="3" fill="#000" opacity="0.32"/>
<rect x="244.5" y="432.0" width="33.0" height="38.0" rx="3" fill="#000" opacity="0.10"/>
<rect x="288.9" y="432.0" width="33.0" height="38.0" rx="3" fill="#000" opacity="0.16"/>
<rect x="333.1" y="432.0" width="33.0" height="38.0" rx="3" fill="#000" opacity="0.12"/>
<rect x="378.1" y="432.0" width="33.0" height="38.0" rx="3" fill="#000" opacity="0.25"/>
<rect x="244.5" y="530.0" width="33.0" height="16.0" rx="3" fill="#000" opacity="0.10"/>
<rect x="288.9" y="530.0" width="33.0" height="16.0" rx="3" fill="#000" opacity="0.10"/>
<rect x="333.1" y="530.0" width="33.0" height="16.0" rx="3" fill="#000" opacity="0.10"/>
<rect x="378.1" y="530.0" width="33.0" height="16.0" rx="3" fill="#000" opacity="0.14"/>
<rect x="244.5" y="544.0" width="33.0" height="28.0" rx="3" fill="#000" opacity="0.36"/>
<rect x="288.9" y="544.0" width="33.0" height="28.0" rx="3" fill="#000" opacity="0.36"/>
<rect x="333.1" y="544.0" width="33.0" height="28.0" rx="3" fill="#000" opacity="0.34"/>
<rect x="378.1" y="544.0" width="33.0" height="28.0" rx="3" fill="#000" opacity="0.40"/>
<rect x="244.5" y="574.0" width="33.0" height="58.0" rx="3" fill="#000" opacity="0.07"/>
<rect x="288.9" y="574.0" width="33.0" height="58.0" rx="3" fill="#000" opacity="0.08"/>
<rect x="333.1" y="574.0" width="33.0" height="58.0" rx="3" fill="#000" opacity="0.07"/>
<rect x="378.1" y="574.0" width="33.0" height="58.0" rx="3" fill="#000" opacity="0.09"/>
</g>
<g filter="url(#bl_b2)">
<rect x="243.0" y="427.2" width="36.0" height="3.5" rx="1.8" fill="#000" opacity="0.30"/>
<rect x="287.4" y="427.2" width="36.0" height="3.5" rx="1.8" fill="#000" opacity="0.30"/>
<rect x="331.6" y="427.2" width="36.0" height="3.5" rx="1.8" fill="#000" opacity="0.30"/>
<rect x="376.6" y="427.2" width="36.0" height="3.5" rx="1.8" fill="#000" opacity="0.38"/>
<rect x="243.0" y="437.5" width="36.0" height="5.0" rx="2.0" fill="#000" opacity="0.50"/>
<rect x="287.4" y="437.5" width="36.0" height="5.0" rx="2.0" fill="#000" opacity="0.60"/>
<rect x="331.6" y="437.5" width="36.0" height="5.0" rx="2.0" fill="#000" opacity="0.56"/>
<rect x="376.6" y="437.5" width="36.0" height="5.0" rx="2.0" fill="#000" opacity="0.82"/>
<rect x="243.0" y="446.2" width="36.0" height="3.5" rx="1.8" fill="#000" opacity="0.15"/>
<rect x="287.4" y="446.2" width="36.0" height="3.5" rx="1.8" fill="#000" opacity="0.25"/>
<rect x="331.6" y="446.2" width="36.0" height="3.5" rx="1.8" fill="#000" opacity="0.20"/>
<rect x="376.6" y="446.2" width="36.0" height="3.5" rx="1.8" fill="#000" opacity="0.40"/>
<rect x="243.0" y="454.4" width="36.0" height="4.5" rx="2.0" fill="#000" opacity="0.40"/>
<rect x="287.4" y="454.4" width="36.0" height="4.5" rx="2.0" fill="#000" opacity="0.55"/>
<rect x="331.6" y="454.4" width="36.0" height="4.5" rx="2.0" fill="#000" opacity="0.48"/>
<rect x="376.6" y="454.4" width="36.0" height="4.5" rx="2.0" fill="#000" opacity="0.78"/>
<rect x="243.0" y="460.0" width="36.0" height="5.0" rx="2.0" fill="#000" opacity="0.55"/>
<rect x="287.4" y="460.0" width="36.0" height="5.0" rx="2.0" fill="#000" opacity="0.66"/>
<rect x="331.6" y="460.0" width="36.0" height="5.0" rx="2.0" fill="#000" opacity="0.64"/>
<rect x="376.6" y="460.0" width="36.0" height="5.0" rx="2.0" fill="#000" opacity="0.94"/>
<rect x="243.0" y="474.8" width="36.0" height="5.5" rx="2.0" fill="#000" opacity="0.40"/>
<rect x="287.4" y="474.8" width="36.0" height="5.5" rx="2.0" fill="#000" opacity="0.52"/>
<rect x="331.6" y="474.8" width="36.0" height="5.5" rx="2.0" fill="#000" opacity="0.48"/>
<rect x="376.6" y="474.8" width="36.0" height="5.5" rx="2.0" fill="#000" opacity="0.78"/>
<rect x="243.0" y="484.2" width="36.0" height="3.5" rx="1.8" fill="#000" opacity="0.22"/>
<rect x="287.4" y="484.2" width="36.0" height="3.5" rx="1.8" fill="#000" opacity="0.35"/>
<rect x="331.6" y="484.2" width="36.0" height="3.5" rx="1.8" fill="#000" opacity="0.30"/>
<rect x="376.6" y="484.2" width="36.0" height="3.5" rx="1.8" fill="#000" opacity="0.48"/>
<rect x="243.0" y="494.7" width="36.0" height="4.0" rx="2.0" fill="#000" opacity="0.46"/>
<rect x="287.4" y="494.7" width="36.0" height="4.0" rx="2.0" fill="#000" opacity="0.52"/>
<rect x="331.6" y="494.7" width="36.0" height="4.0" rx="2.0" fill="#000" opacity="0.48"/>
<rect x="376.6" y="494.7" width="36.0" height="4.0" rx="2.0" fill="#000" opacity="0.70"/>
<rect x="243.0" y="512.8" width="36.0" height="4.5" rx="2.0" fill="#000" opacity="0.64"/>
<rect x="287.4" y="512.8" width="36.0" height="4.5" rx="2.0" fill="#000" opacity="0.70"/>
<rect x="331.6" y="512.8" width="36.0" height="4.5" rx="2.0" fill="#000" opacity="0.64"/>
<rect x="376.6" y="512.8" width="36.0" height="4.5" rx="2.0" fill="#000" opacity="0.78"/>
<rect x="243.0" y="552.8" width="36.0" height="10.5" rx="2.0" fill="#000" opacity="0.80"/>
<rect x="287.4" y="552.8" width="36.0" height="10.5" rx="2.0" fill="#000" opacity="0.80"/>
<rect x="331.6" y="552.8" width="36.0" height="10.5" rx="2.0" fill="#000" opacity="0.76"/>
<rect x="376.6" y="552.8" width="36.0" height="10.5" rx="2.0" fill="#000" opacity="0.94"/>
<rect x="243.0" y="578.8" width="36.0" height="4.5" rx="2.0" fill="#000" opacity="0.42"/>
<rect x="287.4" y="578.8" width="36.0" height="4.5" rx="2.0" fill="#000" opacity="0.45"/>
<rect x="331.6" y="578.8" width="36.0" height="4.5" rx="2.0" fill="#000" opacity="0.42"/>
<rect x="376.6" y="578.8" width="36.0" height="4.5" rx="2.0" fill="#000" opacity="0.52"/>
<rect x="243.0" y="595.8" width="36.0" height="3.5" rx="1.8" fill="#000" opacity="0.24"/>
<rect x="287.4" y="595.8" width="36.0" height="3.5" rx="1.8" fill="#000" opacity="0.28"/>
<rect x="331.6" y="595.8" width="36.0" height="3.5" rx="1.8" fill="#000" opacity="0.22"/>
<rect x="376.6" y="595.8" width="36.0" height="3.5" rx="1.8" fill="#000" opacity="0.28"/>
<rect x="243.0" y="610.0" width="36.0" height="3.5" rx="1.8" fill="#000" opacity="0.24"/>
<rect x="287.4" y="610.0" width="36.0" height="3.5" rx="1.8" fill="#000" opacity="0.30"/>
<rect x="331.6" y="610.0" width="36.0" height="3.5" rx="1.8" fill="#000" opacity="0.24"/>
<rect x="376.6" y="610.0" width="36.0" height="3.5" rx="1.8" fill="#000" opacity="0.28"/>
<rect x="243.0" y="617.0" width="36.0" height="3.0" rx="1.5" fill="#000" opacity="0.08"/>
<rect x="287.4" y="617.0" width="36.0" height="3.0" rx="1.5" fill="#000" opacity="0.14"/>
<rect x="331.6" y="617.0" width="36.0" height="3.0" rx="1.5" fill="#000" opacity="0.10"/>
<rect x="376.6" y="617.0" width="36.0" height="3.0" rx="1.5" fill="#000" opacity="0.14"/>
<rect x="243.0" y="624.2" width="36.0" height="3.5" rx="1.8" fill="#000" opacity="0.28"/>
<rect x="287.4" y="624.2" width="36.0" height="3.5" rx="1.8" fill="#000" opacity="0.32"/>
<rect x="331.6" y="624.2" width="36.0" height="3.5" rx="1.8" fill="#000" opacity="0.30"/>
<rect x="376.6" y="624.2" width="36.0" height="3.5" rx="1.8" fill="#000" opacity="0.42"/>
</g>
</g>
<g clip-path="url(#cpB)"><rect x="236" y="406" width="181" height="229" filter="url(#grain)" opacity="0.22"/>
<g filter="url(#bl_d)"><ellipse cx="245.3" cy="484.2" rx="1.8" ry="2.6" fill="#000" opacity=".9"/><ellipse cx="398.5" cy="541.5" rx="1.3" ry="3.2" fill="#000" opacity=".55" transform="rotate(-12 398.5 541.5)"/><ellipse cx="297" cy="421" rx="2.5" ry="1.8" fill="#000" opacity=".35"/><ellipse cx="389" cy="413.5" rx="3" ry="1.8" fill="#000" opacity=".3"/></g></g>
<rect x="235.4" y="405.4" width="181.7" height="229.6" fill="none" stroke="#000" stroke-width="2.4"/>
<clipPath id="cpBg"><rect x="236" y="641" width="181" height="31"/></clipPath>
<g clip-path="url(#cpBg)"><rect x="236" y="641" width="181" height="31" fill="#f3f3f3"/><g filter="url(#bl_g)">
<ellipse cx="265.4" cy="654.2" rx="19.4" ry="5.3" fill="#000"/><rect x="251.5" y="649.7" width="27.8" height="9.0" rx="3" fill="#000"/>
<ellipse cx="307.5" cy="655.8" rx="19.0" ry="4.3" fill="#000"/><rect x="294.0" y="652.3" width="27.0" height="7.0" rx="3" fill="#000"/>
<ellipse cx="349.2" cy="656.7" rx="19.0" ry="3.8" fill="#000"/><rect x="335.7" y="653.7" width="27.0" height="6.0" rx="3" fill="#000"/>
<ellipse cx="388.8" cy="656.7" rx="18.6" ry="4.8" fill="#000"/><rect x="375.7" y="652.7" width="26.1" height="8.0" rx="3" fill="#000"/>
</g></g>
<rect x="235.4" y="641.5" width="181.7" height="30.1" fill="none" stroke="#000" stroke-width="2.4"/>
<text x="62.60" y="365.00" font-size="26.3" font-weight="bold">B</text>
<text x="222.30" y="372.30" font-size="16.2" text-anchor="end">OA</text>
<text x="222.30" y="400.50" font-size="16.2" text-anchor="end">β-OHB</text>
<line x1="257.4" y1="366.7" x2="268.0" y2="366.7" stroke="#808080" stroke-width="1.2"/>
<line x1="305.4" y1="366.7" x2="316.0" y2="366.7" stroke="#808080" stroke-width="1.2"/>
<text x="350.30" y="372.30" font-size="17" text-anchor="middle">+</text>
<text x="396.00" y="372.30" font-size="17" text-anchor="middle">+</text>
<line x1="257.4" y1="394" x2="268.0" y2="394" stroke="#808080" stroke-width="1.2"/>
<text x="310.70" y="399.60" font-size="17" text-anchor="middle">+</text>
<line x1="345.0" y1="394" x2="355.6" y2="394" stroke="#808080" stroke-width="1.2"/>
<text x="396.00" y="399.60" font-size="17" text-anchor="middle">+</text>
<text x="426.00" y="438.50" font-size="16.3">120kD</text>
<text x="426.00" y="483.50" font-size="16.3">72kD</text>
<text x="426.00" y="530.50" font-size="16.3">36kD</text>
<text x="426.00" y="564.10" font-size="16.3">28kD</text>
<text x="426.00" y="619.80" font-size="16.3">17kD</text>
<text x="426.00" y="661.50" font-size="16.3">36kD</text>
<text x="146.00" y="513.30" font-size="16.2">Pan-Kbhb</text>
<text x="160.00" y="661.70" font-size="16.2">GAPDH</text>
<rect x="767.3" y="513.7" width="44.4" height="92.6" fill="#9e9da2"/>
<rect x="834.0" y="475.7" width="44.3" height="130.6" fill="#f98506"/>
<rect x="900.7" y="537.7" width="44.3" height="68.6" fill="#90bde0"/>
<rect x="967.3" y="495.9" width="44.2" height="110.4" fill="#4b74b2"/>
<path d="M744.3 413.3V606.3H1036" fill="none" stroke="#000" stroke-width="2"/>
<line x1="737.0" y1="606.3" x2="744.3" y2="606.3" stroke="#000" stroke-width="2"/>
<text x="736.00" y="611.41" font-size="14.4" text-anchor="end">0.0</text>
<line x1="737.0" y1="558.3" x2="744.3" y2="558.3" stroke="#000" stroke-width="2"/>
<text x="736.00" y="563.41" font-size="14.4" text-anchor="end">0.5</text>
<line x1="737.0" y1="510.3" x2="744.3" y2="510.3" stroke="#000" stroke-width="2"/>
<text x="736.00" y="515.41" font-size="14.4" text-anchor="end">1.0</text>
<line x1="737.0" y1="462.3" x2="744.3" y2="462.3" stroke="#000" stroke-width="2"/>
<text x="736.00" y="467.41" font-size="14.4" text-anchor="end">1.5</text>
<line x1="737.0" y1="414.3" x2="744.3" y2="414.3" stroke="#000" stroke-width="2"/>
<text x="736.00" y="419.41" font-size="14.4" text-anchor="end">2.0</text>
<path d="M777.6 508.3H801.0M777.6 516.7H801.0M789.3 508.3V516.7" stroke="#000" stroke-width="1.7" fill="none"/>
<line x1="789.3" y1="606.3" x2="789.3" y2="613.8" stroke="#000" stroke-width="2"/>
<path d="M844.3 463.7H867.7M844.3 486.7H867.7M856.0 463.7V486.7" stroke="#000" stroke-width="1.7" fill="none"/>
<line x1="856.0" y1="606.3" x2="856.0" y2="613.8" stroke="#000" stroke-width="2"/>
<path d="M911.0 532.3H934.4M911.0 542.3H934.4M922.7 532.3V542.3" stroke="#000" stroke-width="1.7" fill="none"/>
<line x1="922.7" y1="606.3" x2="922.7" y2="613.8" stroke="#000" stroke-width="2"/>
<path d="M977.6 468.3H1001.0M977.6 523.0H1001.0M989.3 468.3V523.0" stroke="#000" stroke-width="1.7" fill="none"/>
<line x1="989.3" y1="606.3" x2="989.3" y2="613.8" stroke="#000" stroke-width="2"/>
<circle cx="770.7" cy="517.0" r="4.9"/>
<circle cx="789.3" cy="509.3" r="4.9"/>
<circle cx="807.7" cy="510.7" r="4.9"/>
<circle cx="837.7" cy="484.0" r="4.9"/>
<circle cx="856.0" cy="462.3" r="4.9"/>
<circle cx="874.3" cy="479.7" r="4.9"/>
<circle cx="904.3" cy="540.7" r="4.9"/>
<circle cx="922.7" cy="531.7" r="4.9"/>
<circle cx="941.0" cy="540.0" r="4.9"/>
<circle cx="989.3" cy="473.7" r="4.9"/>
<circle cx="989.3" cy="486.7" r="4.9"/>
<circle cx="989.3" cy="526.3" r="4.9"/>
<line x1="790.0" y1="455.7" x2="856.0" y2="455.7" stroke="#000" stroke-width="1.6"/>
<text x="824.00" y="457.50" font-size="13.5" text-anchor="middle">*</text>
<line x1="924.3" y1="459.0" x2="990.0" y2="459.0" stroke="#000" stroke-width="1.6"/>
<text x="960.00" y="460.00" font-size="13.5" text-anchor="middle">*</text>
<text transform="translate(704.6 517) rotate(-90)" font-size="15.9" text-anchor="middle">Relative protein level of Kbhb</text>
<text x="752.50" y="633.50" font-size="16" text-anchor="end">OA</text>
<text x="752.50" y="661.00" font-size="16" text-anchor="end">β-OHB</text>
<line x1="785.4" y1="628.7" x2="796.0" y2="628.7" stroke="#808080" stroke-width="1.2"/>
<line x1="852.0" y1="628.7" x2="862.6" y2="628.7" stroke="#808080" stroke-width="1.2"/>
<text x="923.30" y="634.30" font-size="17" text-anchor="middle">+</text>
<text x="990.70" y="634.30" font-size="17" text-anchor="middle">+</text>
<line x1="785.4" y1="656" x2="796.0" y2="656" stroke="#808080" stroke-width="1.2"/>
<text x="857.30" y="661.60" font-size="17" text-anchor="middle">+</text>
<line x1="918.0" y1="656" x2="928.6" y2="656" stroke="#808080" stroke-width="1.2"/>
<text x="990.70" y="661.60" font-size="17" text-anchor="middle">+</text>
</g>
<g id="panelC">
<text x="48.50" y="720.70" font-size="25.5" font-weight="bold">C</text>
<text x="274.70" y="778.10" font-size="13.5" text-anchor="end">other</text>
<line x1="278.3" y1="773.5" x2="281" y2="773.5" stroke="#333" stroke-width="0.8"/>
<rect x="283.5" y="768.9" width="262.3" height="9.2" fill="#6cc5fb" stroke="#111" stroke-width="0.9"/>
<text x="548.06" y="778.10" font-size="13.5">296</text>
<text x="274.70" y="790.97" font-size="13.5" text-anchor="end">cellular metabolic process</text>
<line x1="278.3" y1="786.4" x2="281" y2="786.4" stroke="#333" stroke-width="0.8"/>
<rect x="283.5" y="781.8" width="230.4" height="9.2" fill="#6cc5fb" stroke="#111" stroke-width="0.9"/>
<text x="516.16" y="790.97" font-size="13.5">260</text>
<text x="274.70" y="803.84" font-size="13.5" text-anchor="end">organic substance metabolic process</text>
<line x1="278.3" y1="799.2" x2="281" y2="799.2" stroke="#333" stroke-width="0.8"/>
<rect x="283.5" y="794.6" width="228.6" height="9.2" fill="#6cc5fb" stroke="#111" stroke-width="0.9"/>
<text x="514.39" y="803.84" font-size="13.5">258</text>
<text x="274.70" y="816.71" font-size="13.5" text-anchor="end">primary metabolic process</text>
<line x1="278.3" y1="812.1" x2="281" y2="812.1" stroke="#333" stroke-width="0.8"/>
<rect x="283.5" y="807.5" width="218.8" height="9.2" fill="#6cc5fb" stroke="#111" stroke-width="0.9"/>
<text x="504.64" y="816.71" font-size="13.5">247</text>
<text x="274.70" y="829.58" font-size="13.5" text-anchor="end">nitrogen compound metabolic process</text>
<line x1="278.3" y1="825.0" x2="281" y2="825.0" stroke="#333" stroke-width="0.8"/>
<rect x="283.5" y="820.4" width="200.2" height="9.2" fill="#6cc5fb" stroke="#111" stroke-width="0.9"/>
<text x="486.04" y="829.58" font-size="13.5">226</text>
<text x="274.70" y="842.45" font-size="13.5" text-anchor="end">regulation of biological process</text>
<line x1="278.3" y1="837.9" x2="281" y2="837.9" stroke="#333" stroke-width="0.8"/>
<rect x="283.5" y="833.2" width="198.5" height="9.2" fill="#6cc5fb" stroke="#111" stroke-width="0.9"/>
<text x="484.26" y="842.45" font-size="13.5">224</text>
<text x="274.70" y="855.32" font-size="13.5" text-anchor="end">anatomical structure development</text>
<line x1="278.3" y1="850.7" x2="281" y2="850.7" stroke="#333" stroke-width="0.8"/>
<rect x="283.5" y="846.1" width="161.3" height="9.2" fill="#6cc5fb" stroke="#111" stroke-width="0.9"/>
<text x="447.05" y="855.32" font-size="13.5">182</text>
<text x="274.70" y="868.19" font-size="13.5" text-anchor="end">cellular component organization or biogenesis</text>
<line x1="278.3" y1="863.6" x2="281" y2="863.6" stroke="#333" stroke-width="0.8"/>
<rect x="283.5" y="859.0" width="158.6" height="9.2" fill="#6cc5fb" stroke="#111" stroke-width="0.9"/>
<text x="444.39" y="868.19" font-size="13.5">179</text>
<text x="274.70" y="881.06" font-size="13.5" text-anchor="end">multicellular organism development</text>
<line x1="278.3" y1="876.5" x2="281" y2="876.5" stroke="#333" stroke-width="0.8"/>
<rect x="283.5" y="871.9" width="148.8" height="9.2" fill="#6cc5fb" stroke="#111" stroke-width="0.9"/>
<text x="434.65" y="881.06" font-size="13.5">168</text>
<text x="274.70" y="893.93" font-size="13.5" text-anchor="end">regulation of biological quality</text>
<line x1="278.3" y1="889.3" x2="281" y2="889.3" stroke="#333" stroke-width="0.8"/>
<rect x="283.5" y="884.7" width="135.6" height="9.2" fill="#6cc5fb" stroke="#111" stroke-width="0.9"/>
<text x="421.36" y="893.93" font-size="13.5">153</text>
<text x="274.70" y="906.80" font-size="13.5" text-anchor="end">small molecule metabolic process</text>
<line x1="278.3" y1="902.2" x2="281" y2="902.2" stroke="#333" stroke-width="0.8"/>
<rect x="283.5" y="897.6" width="131.1" height="9.2" fill="#6cc5fb" stroke="#111" stroke-width="0.9"/>
<text x="416.93" y="906.80" font-size="13.5">148</text>
<text x="274.70" y="919.67" font-size="13.5" text-anchor="end">establishment of localization</text>
<line x1="278.3" y1="915.1" x2="281" y2="915.1" stroke="#333" stroke-width="0.8"/>
<rect x="283.5" y="910.5" width="131.1" height="9.2" fill="#6cc5fb" stroke="#111" stroke-width="0.9"/>
<text x="416.93" y="919.67" font-size="13.5">148</text>
<text x="274.70" y="932.54" font-size="13.5" text-anchor="end">cellular response to stimulus</text>
<line x1="278.3" y1="927.9" x2="281" y2="927.9" stroke="#333" stroke-width="0.8"/>
<rect x="283.5" y="923.3" width="131.1" height="9.2" fill="#6cc5fb" stroke="#111" stroke-width="0.9"/>
<text x="416.93" y="932.54" font-size="13.5">148</text>
<text x="274.70" y="945.41" font-size="13.5" text-anchor="end">response to chemical</text>
<line x1="278.3" y1="940.8" x2="281" y2="940.8" stroke="#333" stroke-width="0.8"/>
<rect x="283.5" y="936.2" width="121.4" height="9.2" fill="#6cc5fb" stroke="#111" stroke-width="0.9"/>
<text x="407.18" y="945.41" font-size="13.5">137</text>
<text x="274.70" y="958.28" font-size="13.5" text-anchor="end">biosynthetic process</text>
<line x1="278.3" y1="953.7" x2="281" y2="953.7" stroke="#333" stroke-width="0.8"/>
<rect x="283.5" y="949.1" width="108.1" height="9.2" fill="#6cc5fb" stroke="#111" stroke-width="0.9"/>
<text x="393.89" y="958.28" font-size="13.5">122</text>
<text x="274.70" y="971.15" font-size="13.5" text-anchor="end">response to stress</text>
<line x1="278.3" y1="966.5" x2="281" y2="966.5" stroke="#333" stroke-width="0.8"/>
<rect x="283.5" y="961.9" width="101.9" height="9.2" fill="#6cc5fb" stroke="#111" stroke-width="0.9"/>
<text x="387.69" y="971.15" font-size="13.5">115</text>
<text x="274.70" y="984.02" font-size="13.5" text-anchor="end">catabolic process</text>
<line x1="278.3" y1="979.4" x2="281" y2="979.4" stroke="#333" stroke-width="0.8"/>
<rect x="283.5" y="974.8" width="99.2" height="9.2" fill="#6cc5fb" stroke="#111" stroke-width="0.9"/>
<text x="385.03" y="984.02" font-size="13.5">112</text>
<path d="M281.2 764.5V986.8H608.8" fill="none" stroke="#333" stroke-width="1.1"/>
<text x="283.50" y="999.20" font-size="13" text-anchor="middle">0</text>
<text x="372.10" y="999.20" font-size="13" text-anchor="middle">100</text>
<text x="460.70" y="999.20" font-size="13" text-anchor="middle">200</text>
<text x="549.30" y="999.20" font-size="13" text-anchor="middle">300</text>
<text x="439.30" y="1012.20" font-size="13.5" text-anchor="middle">Number of proteins</text>
</g>
<g id="panelD">
<text x="596.00" y="848.50" font-size="16.4">33</text>
<text x="624.60" y="781.10" font-size="16.4">23</text>
<text x="619.90" y="946.40" font-size="16.4">45</text>
<path d="M745.4 862.8L745.40 722.40A144.6 140.4 0 0 1 832.22 975.08Z" fill="#ff9966" stroke="#ff9966" stroke-width="0.4"/>
<path d="M745.4 862.8L832.22 975.08A144.6 140.4 0 0 1 669.85 982.51Z" fill="#edb9ab" stroke="#edb9ab" stroke-width="0.4"/>
<path d="M745.4 862.8L669.85 982.51A144.6 140.4 0 0 1 603.22 888.39Z" fill="#89c0d4" stroke="#89c0d4" stroke-width="0.4"/>
<path d="M745.4 862.8L603.22 888.39A144.6 140.4 0 0 1 614.56 803.02Z" fill="#ff99cc" stroke="#ff99cc" stroke-width="0.4"/>
<path d="M745.4 862.8L614.56 803.02A144.6 140.4 0 0 1 651.30 756.20Z" fill="#f0d772" stroke="#f0d772" stroke-width="0.4"/>
<path d="M745.4 862.8L651.30 756.20A144.6 140.4 0 0 1 696.89 730.54Z" fill="#cc6699" stroke="#cc6699" stroke-width="0.4"/>
<path d="M745.4 862.8L696.89 730.54A144.6 140.4 0 0 1 732.04 723.00Z" fill="#9933ff" stroke="#9933ff" stroke-width="0.4"/>
<path d="M745.4 862.8L732.04 723.00A144.6 140.4 0 0 1 745.40 722.40Z" fill="#99cc33" stroke="#99cc33" stroke-width="0.4"/>
<text x="873.50" y="822.00" font-size="16.4">137</text>
<text x="746.20" y="1008.00" font-size="16.4">72</text>
<text x="667.70" y="745.20" font-size="16.4">19</text>
<text x="708.20" y="730.00" font-size="16.4">14</text>
<text x="736.20" y="726.50" font-size="16.4">5</text>
<text x="604.30" y="721.00" font-size="26.3" font-weight="bold">D</text>
<text x="908.75" y="720.10" font-size="16.3">Subcellular localization</text>
<rect x="909.5" y="736.75" width="33" height="32.5" fill="#ff9966"/>
<text x="956.25" y="762.35" font-size="16.35">cytoplasm 137(39.37%)</text>
<rect x="909.5" y="772.17" width="33" height="32.5" fill="#edb9ab"/>
<text x="956.25" y="797.77" font-size="16.35">mitochondria 72(20.69%)</text>
<rect x="909.5" y="807.59" width="33" height="32.5" fill="#89c0d4"/>
<text x="956.25" y="833.19" font-size="16.35">nucleus 45(12.93%)</text>
<rect x="909.5" y="843.01" width="33" height="32.5" fill="#ff99cc"/>
<text x="956.25" y="868.61" font-size="16.35">extracellular 33(9.48%)</text>
<rect x="909.5" y="878.43" width="33" height="32.5" fill="#f0d772"/>
<text x="956.25" y="904.03" font-size="16.35">plasma membrane 23(6.61%)</text>
<rect x="909.5" y="913.85" width="33" height="32.5" fill="#cc6699"/>
<text x="956.25" y="939.45" font-size="16.35">cytoplasm,nucleus 19(5.46%)</text>
<rect x="909.5" y="949.27" width="33" height="32.5" fill="#9933ff"/>
<text x="956.25" y="974.87" font-size="16.35">endoplasmic reticulum 14(4.02%)</text>
<rect x="909.5" y="984.69" width="33" height="32.5" fill="#99cc33"/>
<text x="956.25" y="1010.29" font-size="16.35">other 5(1.44%)</text>
</g>
<g id="panelE">
<text x="67.80" y="1080.00" font-size="26.3" font-weight="bold">E</text>
<rect x="506.5" y="1090.5" width="328.5" height="554.7" fill="#fff"/>
<line x1="534.7" y1="1090.5" x2="534.7" y2="1645.2" stroke="#f1f1f1" stroke-width="0.8"/>
<line x1="619.3" y1="1090.5" x2="619.3" y2="1645.2" stroke="#f1f1f1" stroke-width="0.8"/>
<line x1="703.9" y1="1090.5" x2="703.9" y2="1645.2" stroke="#f1f1f1" stroke-width="0.8"/>
<line x1="788.5" y1="1090.5" x2="788.5" y2="1645.2" stroke="#f1f1f1" stroke-width="0.8"/>
<line x1="577.0" y1="1090.5" x2="577.0" y2="1645.2" stroke="#e6e6e6" stroke-width="1.2"/>
<line x1="661.6" y1="1090.5" x2="661.6" y2="1645.2" stroke="#e6e6e6" stroke-width="1.2"/>
<line x1="746.2" y1="1090.5" x2="746.2" y2="1645.2" stroke="#e6e6e6" stroke-width="1.2"/>
<line x1="830.8" y1="1090.5" x2="830.8" y2="1645.2" stroke="#e6e6e6" stroke-width="1.2"/>
<line x1="506.5" y1="1108.4" x2="835" y2="1108.4" stroke="#e6e6e6" stroke-width="1.2"/>
<line x1="506.5" y1="1138.9" x2="835" y2="1138.9" stroke="#e6e6e6" stroke-width="1.2"/>
<line x1="506.5" y1="1169.4" x2="835" y2="1169.4" stroke="#e6e6e6" stroke-width="1.2"/>
<line x1="506.5" y1="1199.8" x2="835" y2="1199.8" stroke="#e6e6e6" stroke-width="1.2"/>
<line x1="506.5" y1="1230.3" x2="835" y2="1230.3" stroke="#e6e6e6" stroke-width="1.2"/>
<line x1="506.5" y1="1260.8" x2="835" y2="1260.8" stroke="#e6e6e6" stroke-width="1.2"/>
<line x1="506.5" y1="1291.3" x2="835" y2="1291.3" stroke="#e6e6e6" stroke-width="1.2"/>
<line x1="506.5" y1="1321.8" x2="835" y2="1321.8" stroke="#e6e6e6" stroke-width="1.2"/>
<line x1="506.5" y1="1352.2" x2="835" y2="1352.2" stroke="#e6e6e6" stroke-width="1.2"/>
<line x1="506.5" y1="1382.7" x2="835" y2="1382.7" stroke="#e6e6e6" stroke-width="1.2"/>
<line x1="506.5" y1="1413.2" x2="835" y2="1413.2" stroke="#e6e6e6" stroke-width="1.2"/>
<line x1="506.5" y1="1443.7" x2="835" y2="1443.7" stroke="#e6e6e6" stroke-width="1.2"/>
<line x1="506.5" y1="1474.2" x2="835" y2="1474.2" stroke="#e6e6e6" stroke-width="1.2"/>
<line x1="506.5" y1="1504.6" x2="835" y2="1504.6" stroke="#e6e6e6" stroke-width="1.2"/>
<line x1="506.5" y1="1535.1" x2="835" y2="1535.1" stroke="#e6e6e6" stroke-width="1.2"/>
<line x1="506.5" y1="1565.6" x2="835" y2="1565.6" stroke="#e6e6e6" stroke-width="1.2"/>
<line x1="506.5" y1="1596.1" x2="835" y2="1596.1" stroke="#e6e6e6" stroke-width="1.2"/>
<line x1="506.5" y1="1626.6" x2="835" y2="1626.6" stroke="#e6e6e6" stroke-width="1.2"/>
<clipPath id="cpE"><rect x="506.5" y="1090.5" width="328.5" height="554.7"/></clipPath><g clip-path="url(#cpE)">
<circle cx="820.3" cy="1108.4" r="4.1" fill="#b0d0f5" stroke="#2b2b2b" stroke-width="1.1"/>
<circle cx="744.7" cy="1138.9" r="14.0" fill="#0b4f9e" stroke="#2b2b2b" stroke-width="1.1"/>
<circle cx="732.1" cy="1169.4" r="8.3" fill="#4a72b8" stroke="#2b2b2b" stroke-width="1.1"/>
<circle cx="664.6" cy="1199.8" r="10.1" fill="#3c68b0" stroke="#2b2b2b" stroke-width="1.1"/>
<circle cx="652.3" cy="1230.3" r="12.8" fill="#10509f" stroke="#2b2b2b" stroke-width="1.1"/>
<circle cx="649.6" cy="1260.8" r="11.5" fill="#2059a6" stroke="#2b2b2b" stroke-width="1.1"/>
<circle cx="609.4" cy="1291.3" r="10.1" fill="#6c90cc" stroke="#2b2b2b" stroke-width="1.1"/>
<circle cx="609.4" cy="1321.8" r="9.2" fill="#8eb3e8" stroke="#2b2b2b" stroke-width="1.1"/>
<circle cx="609.4" cy="1352.2" r="9.2" fill="#95b8ea" stroke="#2b2b2b" stroke-width="1.1"/>
<circle cx="594.4" cy="1382.7" r="10.7" fill="#5c82c5" stroke="#2b2b2b" stroke-width="1.1"/>
<circle cx="589.6" cy="1413.2" r="12.8" fill="#2a5ea8" stroke="#2b2b2b" stroke-width="1.1"/>
<circle cx="584.5" cy="1443.7" r="13.7" fill="#17529f" stroke="#2b2b2b" stroke-width="1.1"/>
<circle cx="581.8" cy="1474.2" r="13.4" fill="#2559a5" stroke="#2b2b2b" stroke-width="1.1"/>
<circle cx="572.8" cy="1504.6" r="11.6" fill="#5a80c3" stroke="#2b2b2b" stroke-width="1.1"/>
<circle cx="568.6" cy="1535.1" r="10.7" fill="#7b9fd9" stroke="#2b2b2b" stroke-width="1.1"/>
<circle cx="554.8" cy="1565.6" r="13.7" fill="#3666b0" stroke="#2b2b2b" stroke-width="1.1"/>
<circle cx="538.3" cy="1596.1" r="12.2" fill="#86a9e0" stroke="#2b2b2b" stroke-width="1.1"/>
<circle cx="521.5" cy="1626.6" r="12.2" fill="#a9ccf7" stroke="#2b2b2b" stroke-width="1.1"/>
</g>
<rect x="506.5" y="1090.5" width="328.5" height="554.7" fill="none" stroke="#7a7a7a" stroke-width="1.3"/>
<text x="254.00" y="1111.40" font-size="16.35">mmu00232 Caffeine metabolism</text>
<line x1="502.3" y1="1108.4" x2="506.5" y2="1108.4" stroke="#333" stroke-width="1.6"/>
<line x1="484.3" y1="1108.4" x2="487.6" y2="1108.4" stroke="#222" stroke-width="1.3"/>
<text x="224.30" y="1142.08" font-size="16.35">mmu00020 Citrate cycle (TCA cycle)</text>
<line x1="502.3" y1="1138.9" x2="506.5" y2="1138.9" stroke="#333" stroke-width="1.6"/>
<line x1="484.3" y1="1138.9" x2="487.6" y2="1138.9" stroke="#222" stroke-width="1.3"/>
<text x="253.00" y="1172.76" font-size="16.35">mmu00910 Nitrogen metabolism</text>
<line x1="502.3" y1="1169.4" x2="506.5" y2="1169.4" stroke="#333" stroke-width="1.6"/>
<line x1="484.3" y1="1169.4" x2="487.6" y2="1169.4" stroke="#222" stroke-width="1.3"/>
<text x="248.50" y="1203.44" font-size="16.35">mmu00220 Arginine biosynthesis</text>
<line x1="502.3" y1="1199.8" x2="506.5" y2="1199.8" stroke="#333" stroke-width="1.6"/>
<line x1="484.3" y1="1199.8" x2="487.6" y2="1199.8" stroke="#222" stroke-width="1.3"/>
<text x="112.50" y="1234.12" font-size="16.35">mmu00630 Glyoxylate and dicarboxylate metabolism</text>
<line x1="502.3" y1="1230.3" x2="506.5" y2="1230.3" stroke="#333" stroke-width="1.6"/>
<line x1="484.3" y1="1230.3" x2="487.6" y2="1230.3" stroke="#222" stroke-width="1.3"/>
<text x="172.50" y="1264.80" font-size="16.35">mmu00330 Arginine and proline metabolism</text>
<line x1="502.3" y1="1260.8" x2="506.5" y2="1260.8" stroke="#333" stroke-width="1.6"/>
<line x1="484.3" y1="1260.8" x2="487.6" y2="1260.8" stroke="#222" stroke-width="1.3"/>
<text x="176.50" y="1295.48" font-size="16.35">mmu00500 Starch and sucrose metabolism</text>
<line x1="502.3" y1="1291.3" x2="506.5" y2="1291.3" stroke="#333" stroke-width="1.6"/>
<line x1="484.3" y1="1291.3" x2="487.6" y2="1291.3" stroke="#222" stroke-width="1.3"/>
<text x="150.00" y="1326.16" font-size="16.35">mmu00053 Ascorbate and aldarate metabolism</text>
<line x1="502.3" y1="1321.8" x2="506.5" y2="1321.8" stroke="#333" stroke-width="1.6"/>
<line x1="484.3" y1="1321.8" x2="487.6" y2="1321.8" stroke="#222" stroke-width="1.3"/>
<text x="241.50" y="1356.84" font-size="16.35">mmu00052 Galactose metabolism</text>
<line x1="502.3" y1="1352.2" x2="506.5" y2="1352.2" stroke="#333" stroke-width="1.6"/>
<line x1="484.3" y1="1352.2" x2="487.6" y2="1352.2" stroke="#222" stroke-width="1.3"/>
<text x="265.00" y="1387.52" font-size="16.35">mmu00310 Lysine degradation</text>
<line x1="502.3" y1="1382.7" x2="506.5" y2="1382.7" stroke="#333" stroke-width="1.6"/>
<line x1="484.3" y1="1382.7" x2="487.6" y2="1382.7" stroke="#222" stroke-width="1.3"/>
<text x="137.50" y="1418.20" font-size="16.35">mmu00982 Drug metabolism − cytochrome P450</text>
<line x1="502.3" y1="1413.2" x2="506.5" y2="1413.2" stroke="#333" stroke-width="1.6"/>
<line x1="484.3" y1="1413.2" x2="487.6" y2="1413.2" stroke="#222" stroke-width="1.3"/>
<text x="191.50" y="1448.88" font-size="16.35">mmu00010 Glycolysis / Gluconeogenesis</text>
<line x1="502.3" y1="1443.7" x2="506.5" y2="1443.7" stroke="#333" stroke-width="1.6"/>
<line x1="484.3" y1="1443.7" x2="487.6" y2="1443.7" stroke="#222" stroke-width="1.3"/>
<text x="242.50" y="1479.56" font-size="16.35">mmu00071 Fatty acid degradation</text>
<line x1="502.3" y1="1474.2" x2="506.5" y2="1474.2" stroke="#333" stroke-width="1.6"/>
<line x1="484.3" y1="1474.2" x2="487.6" y2="1474.2" stroke="#222" stroke-width="1.3"/>
<text x="231.00" y="1510.24" font-size="16.35">mmu00640 Propanoate metabolism</text>
<line x1="502.3" y1="1504.6" x2="506.5" y2="1504.6" stroke="#333" stroke-width="1.6"/>
<line x1="484.3" y1="1504.6" x2="487.6" y2="1504.6" stroke="#222" stroke-width="1.3"/>
<text x="81.50" y="1540.92" font-size="16.35">mmu00250 Alanine, aspartate and glutamate metabolism</text>
<line x1="502.3" y1="1535.1" x2="506.5" y2="1535.1" stroke="#333" stroke-width="1.6"/>
<line x1="484.3" y1="1535.1" x2="487.6" y2="1535.1" stroke="#222" stroke-width="1.3"/>
<text x="104.00" y="1571.60" font-size="16.35">mmu00280 Valine, leucine and isoleucine degradation</text>
<line x1="502.3" y1="1565.6" x2="506.5" y2="1565.6" stroke="#333" stroke-width="1.6"/>
<line x1="484.3" y1="1565.6" x2="487.6" y2="1565.6" stroke="#222" stroke-width="1.3"/>
<text x="69.00" y="1602.28" font-size="16.35">mmu00980 Metabolism of xenobiotics by cytochrome P450</text>
<line x1="502.3" y1="1596.1" x2="506.5" y2="1596.1" stroke="#333" stroke-width="1.6"/>
<line x1="484.3" y1="1596.1" x2="487.6" y2="1596.1" stroke="#222" stroke-width="1.3"/>
<text x="231.50" y="1632.96" font-size="16.35">mmu00480 Glutathione metabolism</text>
<line x1="502.3" y1="1626.6" x2="506.5" y2="1626.6" stroke="#333" stroke-width="1.6"/>
<line x1="484.3" y1="1626.6" x2="487.6" y2="1626.6" stroke="#222" stroke-width="1.3"/>
<line x1="577.0" y1="1645.2" x2="577.0" y2="1650.4" stroke="#333" stroke-width="1.7"/>
<text x="555.80" y="1665.60" font-size="16.1" text-anchor="middle">1.2</text>
<line x1="661.6" y1="1645.2" x2="661.6" y2="1650.4" stroke="#333" stroke-width="1.7"/>
<text x="638.00" y="1665.60" font-size="16.1" text-anchor="middle">1.6</text>
<line x1="746.2" y1="1645.2" x2="746.2" y2="1650.4" stroke="#333" stroke-width="1.7"/>
<text x="719.70" y="1665.60" font-size="16.1" text-anchor="middle">2.0</text>
<line x1="830.8" y1="1645.2" x2="830.8" y2="1650.4" stroke="#333" stroke-width="1.7"/>
<text x="801.80" y="1665.60" font-size="16.1" text-anchor="middle">2.4</text>
<text x="659.00" y="1686.60" font-size="16.4" text-anchor="middle" font-weight="bold">Log2 Fold enrichment</text>
<path d="M163 1134.5H182.8V1127.8L220 1136.9L182.8 1146.2V1140H163Z" fill="#f15a22"/>
<text x="884.00" y="1213.70" font-size="16.25" font-weight="bold">Protein number</text>
<circle cx="900.5" cy="1235.4" r="7.8" fill="#fff" stroke="#000" stroke-width="1.7"/>
<text x="926.50" y="1242.80" font-size="16.2">2</text>
<circle cx="900.5" cy="1260.1" r="10.1" fill="#fff" stroke="#000" stroke-width="1.7"/>
<text x="926.50" y="1269.30" font-size="16.2">5</text>
<circle cx="900.5" cy="1288.6" r="13.6" fill="#fff" stroke="#000" stroke-width="1.7"/>
<text x="926.50" y="1297.00" font-size="16.2">8</text>
<circle cx="902" cy="1324.4" r="17.9" fill="#fff" stroke="#000" stroke-width="1.7"/>
<text x="926.50" y="1328.10" font-size="16.2">11</text>
<text x="884.00" y="1386.60" font-size="16.25" font-weight="bold">P value</text>
<linearGradient id="pv" x1="0" y1="0" x2="0" y2="1"><stop offset="0" stop-color="#b3d4fb"/><stop offset="1" stop-color="#17539f"/></linearGradient>
<rect x="883.4" y="1396.2" width="27.7" height="135.7" fill="url(#pv)"/>
<path d="M883.4 1415.4h5.5M905.6 1415.4h5.5" stroke="#fff" stroke-width="0.9" opacity="0.85"/>
<text x="918.40" y="1420.30" font-size="16.2">0.04</text>
<path d="M883.4 1444.3h5.5M905.6 1444.3h5.5" stroke="#fff" stroke-width="0.9" opacity="0.85"/>
<text x="918.40" y="1449.20" font-size="16.2">0.03</text>
<path d="M883.4 1473.5h5.5M905.6 1473.5h5.5" stroke="#fff" stroke-width="0.9" opacity="0.85"/>
<text x="918.40" y="1478.40" font-size="16.2">0.02</text>
<path d="M883.4 1502.7h5.5M905.6 1502.7h5.5" stroke="#fff" stroke-width="0.9" opacity="0.85"/>
<text x="918.40" y="1507.60" font-size="16.2">0.01</text>
</g>
</svg></body></html>
